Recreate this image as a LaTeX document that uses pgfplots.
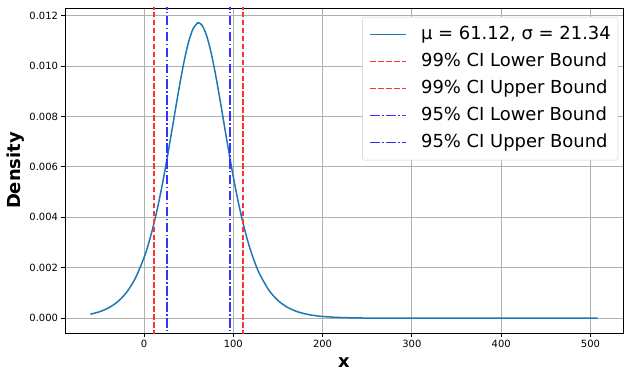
\documentclass[border=0pt]{standalone}
\usepackage{pgfplots}
\pgfplotsset{compat=1.18}
\usepackage{fontspec}
\setmainfont{DejaVu Sans}
\definecolor{mplblue}{RGB}{31,119,180}
\definecolor{cired}{RGB}{255,51,51}
\definecolor{ciblue}{RGB}{51,51,255}
\definecolor{gridgray}{RGB}{176,176,176}
\definecolor{legedge}{RGB}{204,204,204}
\begin{document}
\begin{tikzpicture}
\begin{axis}[
  scale only axis,
  width=558bp, height=325bp,
  xmin=-88.4, xmax=536.4,
  ymin=-0.000586, ymax=0.0123,
  xtick={0,100,200,300,400,500},
  ytick={0,0.002,0.004,0.006,0.008,0.010,0.012},
  scaled y ticks=false,
  yticklabel style={/pgf/number format/.cd, fixed, fixed zerofill, precision=3},
  /pgf/number format/assume math mode=true,
  ticklabel style={font=\fontsize{10}{12}\selectfont},
  tick align=outside, tick pos=left,
  major tick length=3.5bp,
  every tick/.style={black, line width=0.8bp},
  axis line style={line width=0.8bp},
  grid=major,
  major grid style={gridgray, line width=0.8bp},
  xlabel={\textbf{x}}, ylabel={\textbf{Density}},
  label style={font=\fontsize{18}{20}\selectfont},
  xlabel style={at={(axis description cs:0.5,-0.0923)}, anchor=center},
  ylabel style={at={(axis description cs:-0.0878,0.5)}, anchor=center},
  legend cell align=left,
  legend image code/.code={\draw[#1] (0bp,0bp) -- (36bp,0bp);},
  legend style={at={(1,1)}, anchor=north east, xshift=-5bp, yshift=-9bp,
    font=\fontsize{18}{20}\selectfont, draw=legedge, rounded corners=2bp,
    fill=white, row sep=10bp, column sep=14bp,
    inner xsep=7bp, inner ysep=9bp,
    nodes={inner xsep=0bp, inner ysep=0bp, text height=13bp, text depth=4bp}},
]
\addplot[mplblue, line width=1.5bp, smooth] coordinates {
(-60,0.0001596) (-50,0.0002539) (-40,0.0004030) (-30,0.0006373) (-20,0.0010017)
(-10,0.0015594) (0,0.0023920) (5,0.0029394) (10,0.0035866) (15,0.0043404)
(20,0.0051988) (25,0.0061519) (30,0.0071746) (35,0.0082286) (40,0.0092571)
(45,0.0101909) (50,0.0109546) (55,0.011478) (60,0.011707) (61.12,0.011715)
(65,0.011619) (70,0.011222) (75,0.0105582) (80,0.0096918) (85,0.0086964)
(90,0.0076461) (95,0.0066033) (100,0.0056154) (105,0.0047121) (110,0.0039104)
(115,0.0032169) (120,0.0026252) (125,0.0021296) (130,0.0017187) (140,0.0011073)
(150,0.0007058) (160,0.0004468) (170,0.0002816) (180,0.0001770) (190,0.0001111)
(200,0.0000698) (220,0.0000273) (250,0.0000067) (300,0.00000065) (400,0.0) (508,0.0)
};
\addlegendentry{μ = 61.12, σ = 21.34}
\addplot[cired, line width=1.5bp, dash pattern=on 5.55bp off 2.4bp] coordinates {(11.48,-0.001) (11.48,0.013)};
\addlegendentry{99\% CI Lower Bound}
\addplot[cired, line width=1.5bp, dash pattern=on 5.55bp off 2.4bp] coordinates {(110.76,-0.001) (110.76,0.013)};
\addlegendentry{99\% CI Upper Bound}
\addplot[ciblue, line width=1.5bp, dash pattern=on 9.6bp off 2.4bp on 1.5bp off 2.4bp] coordinates {(26.02,-0.001) (26.02,0.013)};
\addlegendentry{95\% CI Lower Bound}
\addplot[ciblue, line width=1.5bp, dash pattern=on 9.6bp off 2.4bp on 1.5bp off 2.4bp] coordinates {(96.22,-0.001) (96.22,0.013)};
\addlegendentry{95\% CI Upper Bound}
\end{axis}
\path ([xshift=-65bp,yshift=-46bp]current axis.south west) rectangle ([xshift=6bp,yshift=8bp]current axis.north east);
\end{tikzpicture}
\end{document}
